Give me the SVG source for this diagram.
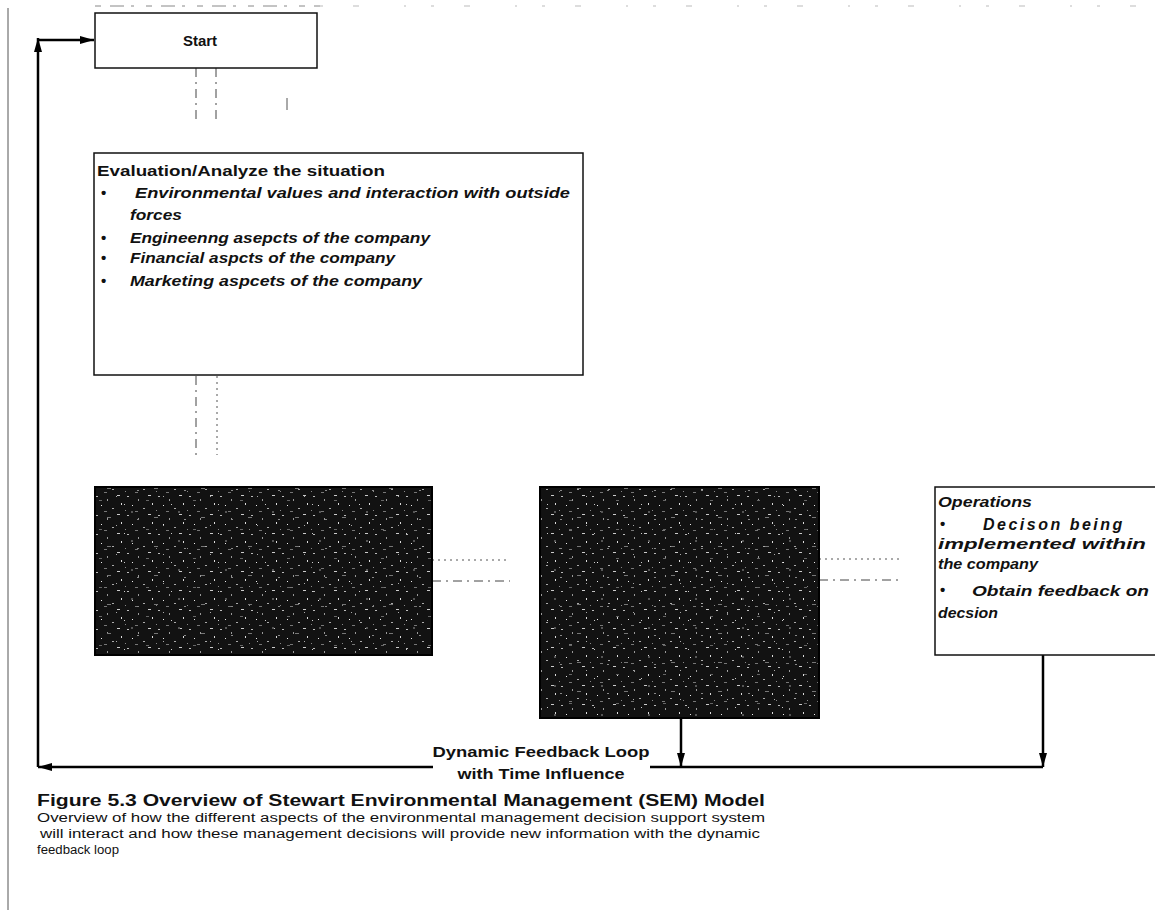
<svg xmlns="http://www.w3.org/2000/svg" width="1155" height="917" viewBox="0 0 1155 917">
<style>
.box{fill:#fff;stroke:#111;stroke-width:1.5}
.dark{fill:url(#noise);stroke:#000;stroke-width:2}
.specks{fill:url(#noise2);stroke:none}
.t{font-family:"Liberation Sans",Arial,sans-serif;fill:#111}
.b{font-weight:bold}
.bi{font-weight:bold;font-style:italic}
.dash{stroke:#444;stroke-width:1;fill:none;stroke-dasharray:9 5 2 5}
.dot{stroke:#555;stroke-width:1;fill:none;stroke-dasharray:2 4}
.conn{stroke:#000;stroke-width:2.5;fill:none}
.scan{stroke:#555;stroke-width:1;fill:none}
</style>
<defs>
<marker id="ah" viewBox="0 0 14 8" refX="14" refY="4" markerWidth="14" markerHeight="8" markerUnits="userSpaceOnUse" orient="auto">
<path d="M0,0 L14,4 L0,8 Z" fill="#000"/>
</marker>
<pattern id="noise" width="31" height="19" patternUnits="userSpaceOnUse">
<rect width="31" height="19" fill="#121212"/>
<rect x="3" y="2" width="2" height="1" fill="#bbb"/>
<rect x="14" y="5" width="1" height="2" fill="#999"/>
<rect x="24" y="1" width="3" height="1" fill="#ccc"/>
<rect x="8" y="11" width="1" height="1" fill="#eee"/>
<rect x="19" y="14" width="2" height="1" fill="#aaa"/>
<rect x="28" y="9" width="1" height="2" fill="#ddd"/>
<rect x="1" y="16" width="1" height="1" fill="#888"/>
<rect x="11" y="17" width="3" height="1" fill="#777"/>
</pattern>
<pattern id="noise2" width="47" height="29" patternUnits="userSpaceOnUse">
<rect x="5" y="7" width="3" height="1" fill="#666"/>
<rect x="22" y="3" width="1" height="1" fill="#aaa"/>
<rect x="37" y="18" width="2" height="2" fill="#555"/>
<rect x="13" y="24" width="4" height="1" fill="#777"/>
<rect x="30" y="11" width="1" height="1" fill="#ccc"/>
<rect x="43" y="26" width="2" height="1" fill="#888"/>
</pattern>
</defs>

<!-- scan artifacts -->
<line class="scan" x1="8" y1="8" x2="8" y2="910"/>
<line x1="95" y1="6" x2="320" y2="6" stroke="#888" stroke-width="1" stroke-dasharray="6 9 14 7 3 12"/>
<line x1="320" y1="6" x2="1150" y2="6" stroke="#bbb" stroke-width="1" stroke-dasharray="3 30 6 45 2 25"/>

<g id="connectors">
<!-- start to evaluation -->
<line class="dash" x1="196" y1="68" x2="196" y2="120"/>
<line class="dash" x1="216" y1="68" x2="216" y2="120"/>
<line class="scan" x1="287" y1="98" x2="287" y2="110"/>
<!-- evaluation to boxes -->
<line class="dash" x1="196" y1="376" x2="196" y2="455"/>
<line class="dot" x1="217" y1="376" x2="217" y2="455"/>
<!-- box to box -->
<line class="dot" x1="432" y1="560" x2="510" y2="560"/>
<line class="dash" x1="432" y1="581" x2="510" y2="581"/>
<line class="dot" x1="819" y1="559" x2="903" y2="559"/>
<line class="dash" x1="819" y1="580" x2="903" y2="580"/>
<!-- feedback -->
<line class="conn" x1="681" y1="718" x2="681" y2="767" marker-end="url(#ah)"/>
<line class="conn" x1="1043" y1="655" x2="1043" y2="767" marker-end="url(#ah)"/>
<line class="conn" x1="1043" y1="767" x2="650" y2="767"/>
<line class="conn" x1="433" y1="767" x2="38" y2="767" marker-end="url(#ah)"/>
<line class="conn" x1="38" y1="767" x2="38" y2="38" marker-end="url(#ah)"/>
<line class="conn" x1="38" y1="40" x2="94" y2="40" marker-end="url(#ah)"/>
<text class="t b" x="541" y="757" font-size="14" text-anchor="middle" textLength="217" lengthAdjust="spacingAndGlyphs">Dynamic Feedback Loop</text>
<text class="t b" x="541" y="779" font-size="14" text-anchor="middle" textLength="167" lengthAdjust="spacingAndGlyphs">with Time Influence</text>
</g>

<g id="start">
<rect class="box" x="95" y="13" width="222" height="55" stroke-width="1.2"/>
<text class="t b" x="200" y="46" font-size="15" text-anchor="middle">Start</text>
</g>

<g id="evaluation">
<rect class="box" x="94" y="153" width="489" height="222"/>
<text class="t b" x="97" y="176" font-size="15" textLength="288" lengthAdjust="spacingAndGlyphs">Evaluation/Analyze the situation</text>
<text class="t b" x="101" y="198" font-size="15">•</text>
<text class="t bi" x="135" y="198" font-size="15" textLength="435" lengthAdjust="spacingAndGlyphs">Environmental values and interaction with outside</text>
<text class="t bi" x="130" y="220" font-size="15" textLength="52" lengthAdjust="spacingAndGlyphs">forces</text>
<text class="t b" x="101" y="243" font-size="15">•</text>
<text class="t bi" x="130" y="243" font-size="15" textLength="300" lengthAdjust="spacingAndGlyphs">Engineenng asepcts of the company</text>
<text class="t b" x="101" y="263" font-size="15">•</text>
<text class="t bi" x="130" y="263" font-size="15" textLength="265" lengthAdjust="spacingAndGlyphs">Financial aspcts of the company</text>
<text class="t b" x="101" y="286" font-size="15">•</text>
<text class="t bi" x="130" y="286" font-size="15" textLength="292" lengthAdjust="spacingAndGlyphs">Marketing aspcets of the company</text>
</g>

<g id="box-left">
<rect class="dark" x="95" y="487" width="337" height="168"/>
<rect class="specks" x="96" y="488" width="335" height="166"/>
</g>

<g id="box-middle">
<rect class="dark" x="540" y="487" width="279" height="231"/>
<rect class="specks" x="541" y="488" width="277" height="229"/>
</g>

<g id="operations">
<rect class="box" x="935" y="487" width="230" height="168"/>
<text class="t bi" x="938" y="507" font-size="14" textLength="94" lengthAdjust="spacingAndGlyphs">Operations</text>
<text class="t b" x="940" y="529" font-size="15">•</text>
<text class="t bi" x="983" y="530" font-size="16" letter-spacing="2.5">Decison being</text>
<text class="t bi" x="938" y="549" font-size="14" textLength="208" lengthAdjust="spacingAndGlyphs">implemented  within</text>
<text class="t bi" x="938" y="569" font-size="15" textLength="100" lengthAdjust="spacingAndGlyphs">the company</text>
<text class="t b" x="940" y="595" font-size="15">•</text>
<text class="t bi" x="972" y="596" font-size="15" textLength="177" lengthAdjust="spacingAndGlyphs">Obtain feedback on</text>
<text class="t bi" x="938" y="618" font-size="15" textLength="60" lengthAdjust="spacingAndGlyphs">decsion</text>
</g>

<g id="caption">
<text class="t b" x="37" y="806" font-size="16" textLength="728" lengthAdjust="spacingAndGlyphs">Figure 5.3  Overview of Stewart Environmental Management (SEM) Model</text>
<text class="t" x="37" y="822" font-size="12.5" textLength="728" lengthAdjust="spacingAndGlyphs">Overview of how the different aspects of the environmental management decision support system</text>
<text class="t" x="40" y="838" font-size="12.5" textLength="720" lengthAdjust="spacingAndGlyphs">will interact and how these management decisions will provide new information with the dynamic</text>
<text class="t" x="37" y="854" font-size="12.5" textLength="82" lengthAdjust="spacingAndGlyphs">feedback loop</text>
</g>
</svg>
